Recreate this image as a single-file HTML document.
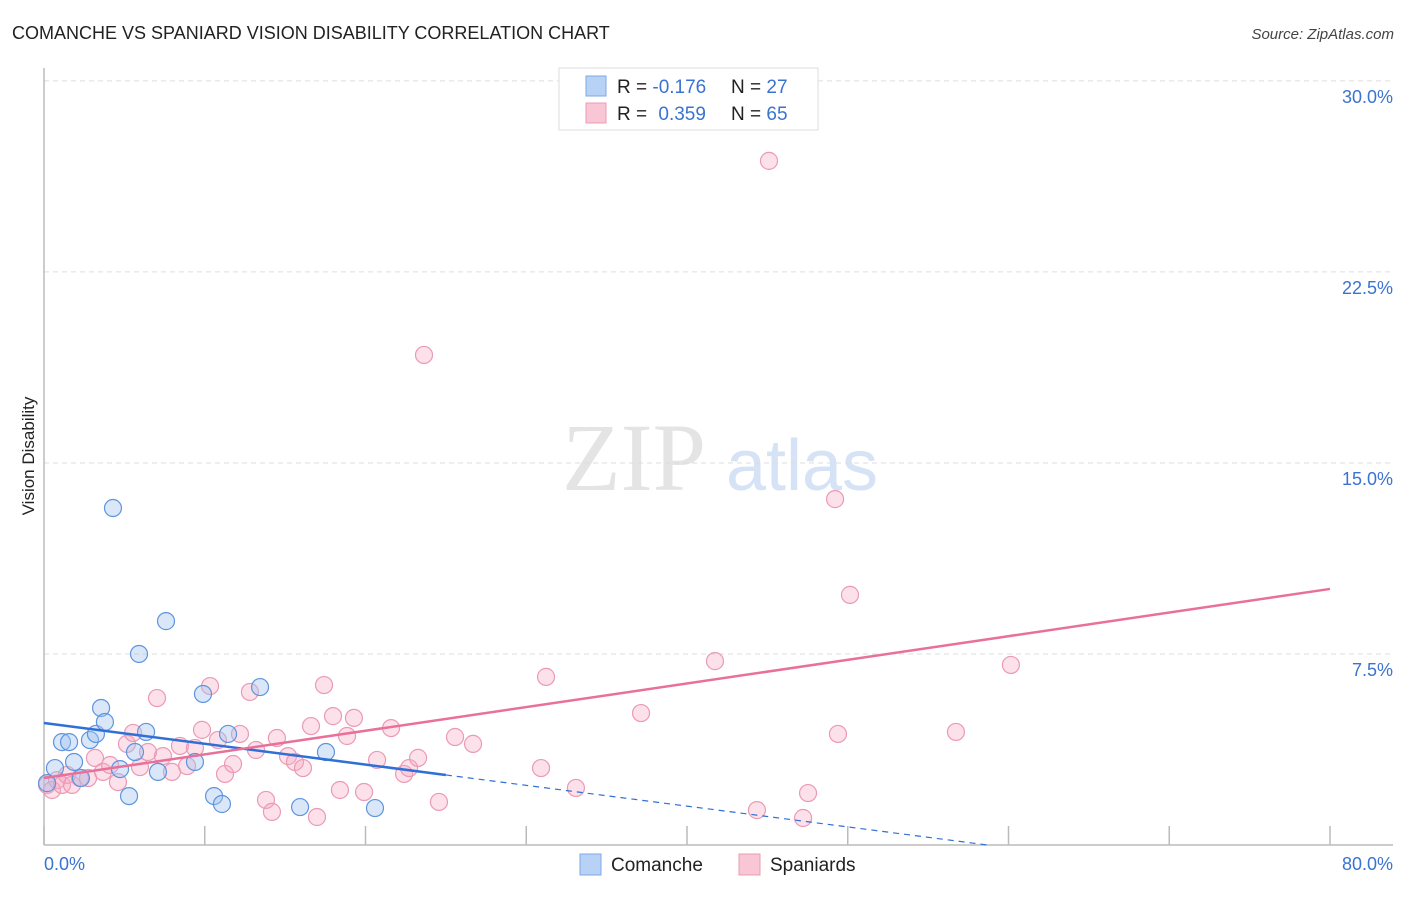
<!DOCTYPE html>
<html><head><meta charset="utf-8"><style>
body{margin:0;background:#fff;font-family:"Liberation Sans",sans-serif}
</style></head><body>
<svg id="c" width="1406" height="892" xmlns="http://www.w3.org/2000/svg" style="font-family:'Liberation Sans',sans-serif">
<text x="12" y="39" font-size="18" fill="#222">COMANCHE VS SPANIARD VISION DISABILITY CORRELATION CHART</text>
<text x="1394" y="39" font-size="15" fill="#444" font-style="italic" text-anchor="end">Source: ZipAtlas.com</text>
<text x="34" y="456" font-size="17" fill="#222" text-anchor="middle" transform="rotate(-90 34 456)">Vision Disability</text>
<g><text x="634" y="490" font-size="96" fill="#e4e4e4" font-family="Liberation Serif" text-anchor="middle">ZIP</text><text x="802" y="490" font-size="72" fill="#d6e2f5" text-anchor="middle">atlas</text></g>
<g id="grid"></g><g id="axes"></g><g id="marks"></g>
<g>
<rect x="559" y="68" width="259" height="62" fill="#fff" stroke="#ddd"/>
<rect x="586" y="76" width="20" height="20" fill="#b7d2f5" stroke="#7ea8e6"/>
<rect x="586" y="103" width="20" height="20" fill="#f8c6d5" stroke="#ec9bb5"/>
<text x="617" y="93" font-size="19" fill="#222">R = <tspan fill="#3a73d0">-0.176</tspan></text>
<text x="731" y="93" font-size="19" fill="#222">N = <tspan fill="#3a73d0">27</tspan></text>
<text x="617" y="120" font-size="19" fill="#222">R = <tspan fill="#3a73d0" dx="6">0.359</tspan></text>
<text x="731" y="120" font-size="19" fill="#222">N = <tspan fill="#3a73d0">65</tspan></text>
</g>
<g>
<rect x="580" y="854" width="21" height="21" fill="#b7d2f5" stroke="#7ea8e6"/>
<text x="611" y="871" font-size="19" fill="#222">Comanche</text>
<rect x="739" y="854" width="21" height="21" fill="#f8c6d5" stroke="#ec9bb5"/>
<text x="770" y="871" font-size="19" fill="#222">Spaniards</text>
</g>
</svg>
<script>
const yTicks=[7.5,15,22.5,30];
const yTickLabels=["7.5%","15.0%","22.5%","30.0%"];
const xTicks=[0,10,20,30,40,50,60,70,80];
const comancheX=[0.19,0.68,1.12,1.56,1.87,2.30,2.86,3.23,3.55,3.79,4.29,4.73,5.29,5.66,5.91,6.35,7.09,7.59,9.39,9.89,10.58,11.07,11.45,13.44,15.93,17.54,20.59];
const comancheY=[2.43,3.02,4.04,4.04,3.26,2.63,4.12,4.36,5.38,4.83,13.23,2.98,1.92,3.65,7.50,4.44,2.87,8.79,3.26,5.93,1.92,1.61,4.36,6.20,1.49,3.65,1.45];
const spanX=[0.19,0.50,0.81,1.12,1.43,1.74,2.24,2.74,3.17,3.67,4.11,4.60,5.16,5.54,5.97,6.47,7.03,7.40,7.96,8.46,8.90,9.39,9.83,10.33,10.82,11.26,11.76,12.19,12.81,13.19,13.81,14.18,14.49,15.18,15.61,16.11,16.61,16.98,17.42,17.98,18.41,18.85,19.28,19.91,20.72,21.59,22.40,22.71,23.27,23.64,24.57,25.57,26.69,30.92,31.23,33.09,37.14,41.74,44.35,45.10,47.22,47.53,49.21,49.39,50.14,56.73,60.15];
const spanY=[2.36,2.16,2.55,2.36,2.75,2.36,2.63,2.63,3.42,2.87,3.14,2.47,3.97,4.40,3.06,3.65,5.77,3.49,2.87,3.89,3.10,3.81,4.52,6.24,4.12,2.79,3.18,4.36,6.01,3.73,1.77,1.30,4.20,3.49,3.26,3.02,4.67,1.10,6.28,5.06,2.16,4.28,4.99,2.08,3.34,4.59,2.79,3.02,3.42,19.24,1.69,4.24,3.97,3.02,6.60,2.24,5.18,7.22,1.37,26.86,1.06,2.04,13.58,4.36,9.82,4.44,7.07];
const comancheTrend=[4.79,-0.0816];
const spanTrend=[2.63,0.0928];
const X=v=>44+v*16.075, Y=v=>845-v*25.47;
const NS="http://www.w3.org/2000/svg";
function mk(p,t,a){const e=document.createElementNS(NS,t);for(const k in a)e.setAttribute(k,a[k]);document.getElementById(p).appendChild(e);return e;}
yTicks.forEach((t,i)=>{
 const l=mk('grid','line',{x1:44,x2:1393,y1:Y(t),y2:Y(t),stroke:'#ddd','stroke-dasharray':'5,4'});
 
 
 const tx=mk('grid','text',{x:1393,y:Y(t)+22,'font-size':18,fill:'#3a73d0','text-anchor':'end'});
 tx.textContent=yTickLabels[i];
 
 
});
let a=mk('axes','line',{x1:44,x2:44,y1:68,y2:845,stroke:'#bbb','stroke-width':1.5});


a=mk('axes','line',{x1:44,x2:1393,y1:845,y2:845,stroke:'#bbb','stroke-width':1.5});


xTicks.forEach(t=>{const l=mk('axes','line',{x1:X(t),x2:X(t),y1:826,y2:845,stroke:'#bbb','stroke-width':1.5});
 
 });
let t0=mk('axes','text',{x:44,y:870,'font-size':18,fill:'#3a73d0'});t0.textContent='0.0%';


let t1=mk('axes','text',{x:1393,y:870,'font-size':18,fill:'#3a73d0','text-anchor':'end'});t1.textContent='80.0%';


spanX.forEach((x,i)=>{const c=mk('marks','circle',{cx:X(x),cy:Y(spanY[i]),r:8.5,fill:'rgba(245,170,195,0.35)',stroke:'#eb9ab4','stroke-width':1.2});
 
 });
comancheX.forEach((x,i)=>{const c=mk('marks','circle',{cx:X(x),cy:Y(comancheY[i]),r:8.5,fill:'rgba(160,195,240,0.4)',stroke:'#5f95de','stroke-width':1.2});
 
 });
const cy=x=>comancheTrend[0]+comancheTrend[1]*x, sy=x=>spanTrend[0]+spanTrend[1]*x;
let l=mk('marks','line',{x1:X(0),y1:Y(cy(0)),x2:X(25),y2:Y(cy(25)),stroke:'#2f6fd6','stroke-width':2.5});


const xe=-comancheTrend[0]/comancheTrend[1];
l=mk('marks','line',{x1:X(25),y1:Y(cy(25)),x2:X(xe),y2:Y(0),stroke:'#2f6fd6','stroke-width':1.2,'stroke-dasharray':'6,5'});


l=mk('marks','line',{x1:X(0),y1:Y(sy(0)),x2:X(80),y2:Y(sy(80)),stroke:'#e8709a','stroke-width':2.5});


</script>
</body></html>
